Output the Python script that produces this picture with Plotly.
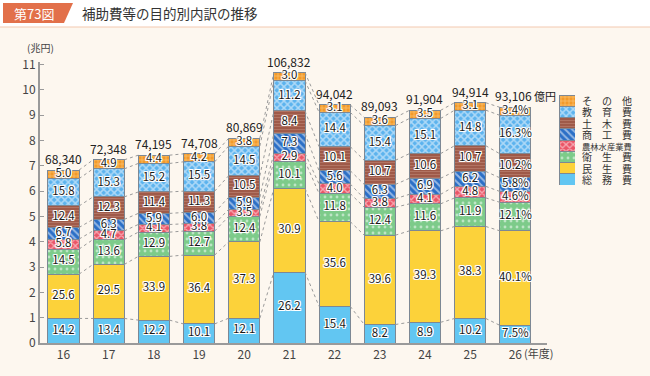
import plotly.graph_objects as go

years = ["16", "17", "18", "19", "20", "21", "22", "23", "24", "25", "26"]
totals = [68340, 72348, 74195, 74708, 80869, 106832, 94042, 89093, 91904, 94914, 93106]

categories = ["総務費", "民生費", "衛生費", "農林水産業費", "商工費", "土木費", "教育費", "その他"]
legend_labels = ["総　務　費", "民　生　費", "衛　生　費", "農林水産業費", "商　工　費", "土　木　費", "教　育　費", "そ　の　他"]

somu = [14.2, 13.4, 12.2, 10.1, 12.1, 26.2, 15.4, 8.2, 8.9, 10.2, 7.5]
minsei = [25.6, 29.5, 33.9, 36.4, 37.3, 30.9, 35.6, 39.6, 39.3, 38.3, 40.1]
eisei = [14.5, 13.6, 12.9, 12.7, 12.4, 10.1, 11.8, 12.4, 11.6, 11.9, 12.1]
norin = [5.8, 4.7, 4.1, 3.8, 3.5, 2.9, 4.0, 3.8, 4.1, 4.8, 4.6]
shoko = [6.7, 6.3, 5.9, 6.0, 5.9, 7.3, 5.6, 6.3, 6.9, 6.2, 5.8]
doboku = [12.4, 12.3, 11.4, 11.3, 10.5, 8.4, 10.1, 10.7, 10.6, 10.7, 10.2]
kyoiku = [15.8, 15.3, 15.2, 15.5, 14.5, 11.2, 14.4, 15.4, 15.1, 14.8, 16.3]
sonota = [5.0, 4.9, 4.4, 4.2, 3.8, 3.0, 3.1, 3.6, 3.5, 3.1, 3.4]

y_ticks = list(range(0, 12))

series = [somu, minsei, eisei, norin, shoko, doboku, kyoiku, sonota]

styles = [
    dict(color="#62c6f2", pattern=None),
    dict(color="#fcd23a", pattern=None),
    dict(color="#7dcb8a", pattern=dict(shape=".", fgcolor="#ffffff", size=6, solidity=0.18, fillmode="overlay")),
    dict(color="#ea5566", pattern=dict(shape="x", fgcolor="#ffffff", size=5, solidity=0.45, fillmode="overlay")),
    dict(color="#2b6fc6", pattern=dict(shape="\\", fgcolor="#ffffff", size=5, solidity=0.4, fillmode="overlay")),
    dict(color="#9a5443", pattern=dict(shape="-", fgcolor="#c99484", size=3, solidity=0.45, fillmode="overlay")),
    dict(color="#5cb3ee", pattern=dict(shape="x", fgcolor="#ffffff", size=5, solidity=0.5, fillmode="overlay")),
    dict(color="#f39a2a", pattern=dict(shape="+", fgcolor="#ffe3a8", size=4, solidity=0.35, fillmode="overlay")),
]

W, H = 650, 376
ML, MR, MT, MB = 40, 0, 62, 33
PW = W - ML - MR
PH = H - MT - MB
BAR_W = 0.69
CREAM = "#fdf7ef"
FONT = "Noto Sans CJK JP"


def px_x(px):
    return (px - ML) / PW


def px_y(py):
    return (H - MB - py) / PH


x_idx = list(range(len(years)))
totals_cho = [t / 10000 for t in totals]

fig = go.Figure()

# cumulative levels
cum = []
for i in range(len(years)):
    acc = 0.0
    levels = [0.0]
    for s in series:
        acc += totals_cho[i] * s[i] / 100
        levels.append(acc)
    cum.append(levels)

# dotted connector lines
cx, cy = [], []
for k in range(1, len(series) + 1):
    for i in range(len(years) - 1):
        cx += [x_idx[i] + BAR_W / 2, x_idx[i + 1] - BAR_W / 2, None]
        cy += [cum[i][k], cum[i + 1][k], None]
fig.add_trace(go.Scatter(x=cx, y=cy, mode="lines", line=dict(color="#9a9a9a", width=1, dash="dot"),
                         showlegend=False, hoverinfo="skip"))

for ci, (name, s, st) in enumerate(zip(categories, series, styles)):
    vals = [totals_cho[i] * s[i] / 100 for i in range(len(years))]
    marker = dict(color=st["color"], line=dict(color="#7d8894", width=1))
    if st["pattern"]:
        marker["pattern"] = st["pattern"]
    fig.add_trace(go.Bar(x=x_idx, y=vals, name=name, marker=marker, width=BAR_W,
                         showlegend=False, xaxis="x", yaxis="y"))

# segment labels
shadow = "1px 1px 0 #fff, -1px -1px 0 #fff, 1px -1px 0 #fff, -1px 1px 0 #fff, 0 1px 0 #fff, 0 -1px 0 #fff, 1px 0 0 #fff, -1px 0 0 #fff"
lx, ly, lt = [], [], []
for i in range(len(years)):
    for k, s in enumerate(series):
        lx.append(x_idx[i])
        ly.append((cum[i][k] + cum[i][k + 1]) / 2)
        lt.append(f"{s[i]:.1f}" + ("%" if i == len(years) - 1 else ""))
fig.add_trace(go.Scatter(x=lx, y=ly, text=lt, mode="text",
                         textfont=dict(family=FONT, size=11.5, color="#1a1a1a", shadow=shadow),
                         showlegend=False, hoverinfo="skip"))

# total labels
for i, t in enumerate(totals):
    if i == len(totals) - 1:
        fig.add_annotation(x=x_idx[i], y=totals_cho[i], text=f"{t:,}<span style='font-size:11px'> 億円</span>",
                           showarrow=False, yanchor="bottom", yshift=1, xanchor="left", xshift=-22,
                           font=dict(family=FONT, size=12, color="#222"))
    else:
        fig.add_annotation(x=x_idx[i], y=totals_cho[i], text=f"{t:,}", showarrow=False,
                           yanchor="bottom", yshift=1, font=dict(family=FONT, size=12, color="#222"))

# legend swatches on auxiliary axes
for ci, (st, lab) in enumerate(zip(styles, legend_labels)):
    marker = dict(color=st["color"], line=dict(color="#7d8894", width=1))
    if st["pattern"]:
        marker["pattern"] = st["pattern"]
    fig.add_trace(go.Bar(x=[0], y=[1], base=[ci], width=1, marker=marker, xaxis="x2", yaxis="y2",
                         showlegend=False, hoverinfo="skip"))
    fig.add_annotation(xref="x2", yref="y2", x=0.5, y=ci + 0.5, text=lab, showarrow=False,
                       xanchor="left", xshift=5, yanchor="middle",
                       font=dict(family=FONT, size=8.3 if "　" not in lab else 10, color="#333"))

# axis annotations
fig.add_annotation(xref="paper", yref="paper", x=px_x(40), y=px_y(48), text="(兆円)", showarrow=False,
                   xanchor="center", yanchor="middle", font=dict(family=FONT, size=10, color="#444"))
fig.add_annotation(xref="paper", yref="paper", x=px_x(522), y=px_y(353), text="(年度)", showarrow=False,
                   xanchor="left", yanchor="middle", font=dict(family=FONT, size=11, color="#444"))

# header
shapes = [
    dict(type="rect", xref="paper", yref="paper", x0=px_x(0), x1=px_x(650), y0=px_y(27), y1=px_y(0),
         fillcolor="#ffffff", line=dict(width=0), layer="below"),
    dict(type="line", xref="paper", yref="paper", x0=px_x(0), x1=px_x(650), y0=px_y(27), y1=px_y(27),
         line=dict(color="#f3c9b0", width=1)),
    dict(type="path", xref="paper", yref="paper",
         path=f"M {px_x(3)} {px_y(3)} L {px_x(73)} {px_y(3)} L {px_x(64)} {px_y(23)} L {px_x(3)} {px_y(23)} Z",
         fillcolor="#e2704a", line=dict(width=0)),
]
fig.add_annotation(xref="paper", yref="paper", x=px_x(34), y=px_y(13), text="第73図", showarrow=False,
                   xanchor="center", yanchor="middle", font=dict(family=FONT, size=13, color="#ffffff"))
fig.add_annotation(xref="paper", yref="paper", x=px_x(80), y=px_y(13), text="補助費等の目的別内訳の推移",
                   showarrow=False, xanchor="left", yanchor="middle",
                   font=dict(family=FONT, size=13.5, color="#333"))

fig.update_layout(
    width=W, height=H,
    margin=dict(l=ML, r=MR, t=MT, b=MB),
    paper_bgcolor=CREAM, plot_bgcolor=CREAM,
    barmode="stack", bargap=0.31,
    shapes=shapes,
    font=dict(family=FONT, color="#444"),
    xaxis=dict(domain=[0, (547 - ML) / PW], range=[-0.52, 10.7], tickmode="array", tickvals=x_idx,
               ticktext=years, showgrid=False, zeroline=False, showline=True, linecolor="#9a9a9a",
               linewidth=1.5, ticks="", tickfont=dict(size=12, color="#444", family=FONT)),
    yaxis=dict(range=[0, 11.1], tickmode="array", tickvals=y_ticks, showgrid=False, zeroline=False,
               showline=True, linecolor="#9a9a9a", linewidth=2, ticks="inside", ticklen=4,
               tickcolor="#9a9a9a", tickfont=dict(size=12, color="#444", family=FONT)),
    xaxis2=dict(domain=[px_x(559), px_x(575)], range=[-0.5, 0.5], visible=False, anchor="y2"),
    yaxis2=dict(domain=[px_y(185), px_y(95)], range=[0, 8], visible=False, anchor="x2"),
    hovermode=False,
)

fig.write_html("out.html", config={"displayModeBar": False},
               post_script="document.body.style.margin='0';document.body.style.background='" + CREAM + "';")
